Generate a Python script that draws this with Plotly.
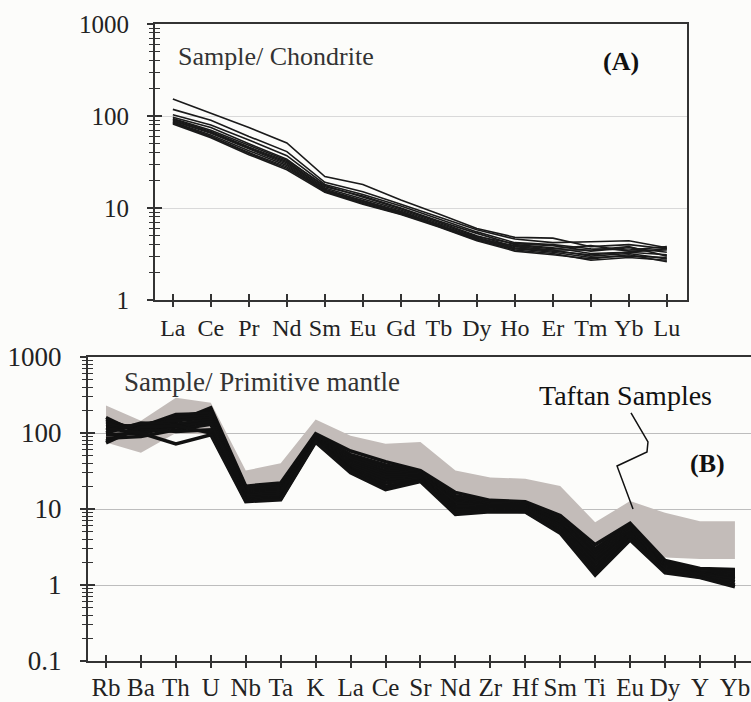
import plotly.graph_objects as go

# chondrite-normalised REE (panel A)
ree = ["La", "Ce", "Pr", "Nd", "Sm", "Eu", "Gd", "Tb", "Dy", "Ho", "Er", "Tm", "Yb", "Lu"]
ree_samples = [
    [153, 108, 75, 51, 22, 18, 12.2, 8.6, 6.0, 4.8, 4.7, 3.8, 4.0, 3.6],
    [118, 90, 60, 41, 19, 15, 11.0, 8.0, 5.8, 4.6, 4.2, 4.3, 4.4, 3.7],
    [103, 80, 55, 37, 18, 14, 10.5, 7.6, 5.5, 4.2, 4.0, 3.6, 3.5, 3.8],
    [97, 75, 50, 34, 17, 13.5, 10.0, 7.2, 5.3, 4.0, 3.7, 3.2, 3.3, 3.1],
    [94, 70, 48, 33, 17.5, 13, 9.8, 7.0, 5.0, 3.8, 3.5, 3.0, 3.2, 2.8],
    [92, 68, 46, 32, 16.5, 12.5, 9.5, 6.8, 4.9, 4.1, 3.9, 3.4, 3.7, 3.3],
    [90, 66, 45, 31, 16, 12, 9.2, 6.6, 4.7, 3.6, 3.3, 2.9, 3.0, 2.9],
    [88, 65, 44, 30, 15.5, 12, 9.0, 6.5, 4.6, 3.9, 3.6, 3.9, 3.4, 3.5],
    [86, 62, 42, 29, 15, 11.5, 8.8, 6.3, 4.5, 3.5, 3.2, 2.7, 2.9, 2.7],
    [84, 60, 40, 28, 15.5, 11.8, 9.0, 6.5, 4.8, 3.7, 3.4, 3.1, 3.3, 3.6],
    [82, 58, 38, 26, 14.8, 11, 8.5, 6.2, 4.4, 3.4, 3.1, 2.8, 3.1, 2.6],
    [85, 60, 39, 27, 15.2, 11.2, 8.6, 6.4, 4.6, 3.6, 3.5, 3.5, 3.8, 3.0],
]

# primitive-mantle-normalised spider diagram (panel B)
pm = ["Rb", "Ba", "Th", "U", "Nb", "Ta", "K", "La", "Ce", "Sr",
      "Nd", "Zr", "Hf", "Sm", "Ti", "Eu", "Dy", "Y", "Yb"]
pm_samples = [
    [160, 95, 140, 215, 20, 22, 98, 58, 42, 32, 16.5, 13, 12.5, 8.2, 3.4, 6.5, 2.1, 1.65, 1.6],
    [150, 105, 150, 200, 19, 21, 95, 52, 38, 31, 15, 12.5, 12, 8.0, 3.0, 6.2, 2.0, 1.6, 1.55],
    [140, 110, 165, 190, 18, 20, 92, 48, 35, 30, 14, 12, 11.5, 7.5, 2.8, 6.0, 1.95, 1.55, 1.5],
    [130, 120, 175, 180, 17, 19, 90, 45, 32, 29, 13, 11.5, 11.2, 7.0, 2.6, 5.6, 1.9, 1.5, 1.45],
    [120, 125, 160, 170, 16.5, 18, 88, 42, 30, 28, 12.5, 11, 11, 6.8, 2.4, 5.3, 1.85, 1.45, 1.4],
    [110, 130, 145, 160, 16, 17.5, 86, 40, 28, 27, 12, 10.8, 10.8, 6.5, 2.2, 5.0, 1.8, 1.42, 1.35],
    [100, 135, 130, 150, 15.5, 17, 85, 38, 26, 26, 11, 10.5, 10.5, 6.2, 2.0, 4.8, 1.75, 1.4, 1.3],
    [95, 100, 120, 140, 15, 16, 84, 36, 24, 25.5, 10.5, 10.2, 10.2, 6.0, 1.9, 4.6, 1.7, 1.38, 1.25],
    [85, 90, 110, 130, 14, 15, 82, 34, 22, 25, 10, 10, 10, 5.7, 1.7, 4.4, 1.65, 1.35, 1.2],
    [78, 115, 105, 110, 13.5, 14, 80, 33, 20, 24, 9.5, 9.8, 9.6, 5.3, 1.6, 4.2, 1.6, 1.3, 1.1],
    [74, 120, 125, 100, 13, 13.5, 78, 32, 19, 23.5, 9, 9.5, 9.3, 5.0, 1.45, 4.0, 1.5, 1.27, 1.0],
    [115, 100, 72, 95, 12.5, 13.2, 76, 30, 18, 23, 8.5, 9.2, 9.1, 4.8, 1.35, 3.9, 1.45, 1.25, 0.95],
]
taftan_upper = [230, 145, 290, 250, 32, 40, 150, 92, 72, 76, 32, 26, 25, 20, 6.7, 12.7, 8.9, 6.9, 6.9]
taftan_lower = [75, 55, 100, 95, 13, 13, 70, 30, 20, 23, 9, 9.5, 9.5, 5.5, 2.5, 4.5, 2.3, 2.2, 2.2]

W, H = 751, 702
FONT = "Liberation Serif"
AXC = "#333333"


def px(x):
    return x / W


def py(y):
    return 1 - y / H


fig = go.Figure()

for s in ree_samples:
    fig.add_trace(go.Scatter(x=ree, y=s, mode="lines", xaxis="x", yaxis="y",
                             line=dict(color="#1a1a1a", width=1.6),
                             showlegend=False, hoverinfo="skip"))

fig.add_trace(go.Scatter(x=pm + pm[::-1], y=taftan_upper + taftan_lower[::-1],
                         xaxis="x2", yaxis="y2", fill="toself", mode="lines",
                         fillcolor="#c3bcb9", line=dict(width=0),
                         showlegend=False, hoverinfo="skip"))
for s in pm_samples:
    fig.add_trace(go.Scatter(x=pm, y=s, mode="lines", xaxis="x2", yaxis="y2",
                             line=dict(color="#111111", width=3.5),
                             showlegend=False, hoverinfo="skip"))

# empty traces so the overlay axes (outer half of the crossing ticks) get drawn
fig.add_trace(go.Scatter(x=ree, y=[None] * len(ree), xaxis="x3", yaxis="y3",
                         showlegend=False, hoverinfo="skip"))
fig.add_trace(go.Scatter(x=pm, y=[None] * len(pm), xaxis="x4", yaxis="y4",
                         showlegend=False, hoverinfo="skip"))

dom_ax = [px(155), px(687)]
dom_ay = [py(300), py(24)]
dom_bx = [px(88), 1.0]
dom_by = [py(661), py(357)]
rng_a = [-0.47, 13.53]
rng_b = [-0.515, 18.46]

# main axes carry labels + inward ticks, overlay axes add the outward half
xa = dict(type="category", ticks="inside", ticklen=6, tickwidth=1.5, tickcolor=AXC,
          showline=True, linecolor=AXC, linewidth=2, showgrid=False, zeroline=False,
          tickangle=0, automargin=False)
ya = dict(type="log", dtick=1, ticks="inside", ticklen=7, tickwidth=1.5, tickcolor=AXC,
          showline=True, linecolor=AXC, linewidth=2, zeroline=False,
          minor=dict(ticks="inside", ticklen=5, tickwidth=1.2, tickcolor=AXC, showgrid=False),
          automargin=False)
x_out = dict(type="category", ticks="outside", ticklen=6, tickwidth=1.5, tickcolor=AXC,
             showline=False, showgrid=False, zeroline=False, showticklabels=False)
y_out = dict(type="log", dtick=1, ticks="outside", ticklen=7, tickwidth=1.5, tickcolor=AXC,
             showline=False, showgrid=False, zeroline=False, showticklabels=False,
             minor=dict(ticks="outside", ticklen=5, tickwidth=1.2, tickcolor=AXC, showgrid=False))

fig.update_layout(
    width=W, height=H,
    margin=dict(l=0, r=0, t=0, b=0),
    paper_bgcolor="#fcfcfa", plot_bgcolor="#fcfcfa",
    xaxis=dict(xa, domain=dom_ax, range=rng_a, anchor="y", mirror=True,
               tickfont=dict(family=FONT, size=24, color="#222222"), ticklabelstandoff=5),
    yaxis=dict(ya, domain=dom_ay, range=[0, 3], anchor="x", mirror=True,
               tickfont=dict(family=FONT, size=25, color="#222222"),
               gridcolor="#d9d9d9", gridwidth=1.2, ticklabelstandoff=19),
    xaxis2=dict(xa, domain=dom_bx, range=rng_b, anchor="y2", mirror=True,
                tickfont=dict(family=FONT, size=25, color="#222222"), ticklabelstandoff=3),
    yaxis2=dict(ya, domain=dom_by, range=[-1, 3], anchor="x2",
                tickfont=dict(family=FONT, size=27, color="#222222"),
                gridcolor="#bdbdbd", gridwidth=1.2, ticklabelstandoff=19),
    xaxis3=dict(x_out, overlaying="x", anchor="y", range=rng_a),
    yaxis3=dict(y_out, overlaying="y", anchor="x", range=[0, 3]),
    xaxis4=dict(x_out, overlaying="x2", anchor="y2", range=rng_b),
    yaxis4=dict(y_out, overlaying="y2", anchor="x2", range=[-1, 3]),
)

fig.add_annotation(x=px(176), y=py(56), xref="paper", yref="paper", text="Sample/ Chondrite",
                   showarrow=False, xanchor="left", yanchor="middle",
                   font=dict(family=FONT, size=26, color="#333333"))
fig.add_annotation(x=px(621), y=py(62), xref="paper", yref="paper", text="<b>(A)</b>",
                   showarrow=False, xanchor="center", yanchor="middle",
                   font=dict(family=FONT, size=26, color="#111111"))
fig.add_annotation(x=px(122), y=py(382), xref="paper", yref="paper",
                   text="Sample/ Primitive mantle",
                   showarrow=False, xanchor="left", yanchor="middle",
                   font=dict(family=FONT, size=27, color="#333333"))
fig.add_annotation(x=px(625), y=py(395), xref="paper", yref="paper", text="Taftan Samples",
                   showarrow=False, xanchor="center", yanchor="middle",
                   font=dict(family=FONT, size=28, color="#111111"))
fig.add_annotation(x=px(707), y=py(463), xref="paper", yref="paper", text="<b>(B)</b>",
                   showarrow=False, xanchor="center", yanchor="middle",
                   font=dict(family=FONT, size=26, color="#111111"))

# squiggly leader from the label down to the grey field
pts = [(631, 413), (648, 442), (647, 452), (617, 466), (633, 509)]
path = "M " + " L ".join(f"{px(a):.4f},{py(b):.4f}" for a, b in pts)
fig.add_shape(type="path", path=path, xref="paper", yref="paper",
              line=dict(color="#111111", width=1.5))

# drop the browser's default 8px body margin so the figure sits at the page corner
fig.write_html("out.html", config={"displayModeBar": False},
               post_script="document.body.style.margin='0';document.body.style.overflow='hidden';")
